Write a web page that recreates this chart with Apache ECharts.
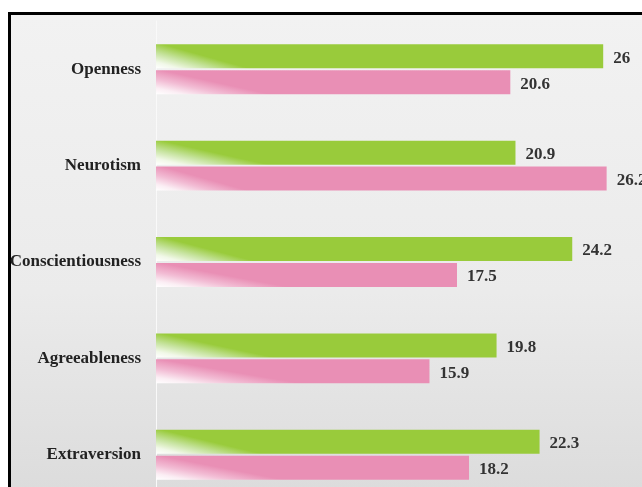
<!DOCTYPE html>
<html>
<head>
<meta charset="utf-8">
<title>Personality traits</title>
<script src="https://cdn.jsdelivr.net/npm/echarts@6/dist/echarts.min.js"></script>
<style>
  html, body { margin: 0; padding: 0; background: #ffffff; overflow: hidden; width: 642px; height: 487px; }
  #frame {
    position: absolute; left: 8px; top: 12px; width: 700px; height: 560px;
    border: 3px solid #000; box-sizing: border-box;
    background: linear-gradient(to bottom, #f2f2f2 0%, #ebebeb 50%, #dbdbdb 88%);
  }
  #chart { position: absolute; left: 0; top: 0; width: 720px; height: 530px; }
</style>
</head>
<body>
<div id="frame"></div>
<div id="chart"></div>
<script>
// Trait names, top to bottom
const categories = ['Openness', 'Neurotism', 'Conscientiousness', 'Agreeableness', 'Extraversion'];
// Mean scores for the two groups
const greenValues = [26, 20.9, 24.2, 19.8, 22.3];
const pinkValues = [20.6, 26.2, 17.5, 15.9, 18.2];

const serif = '"Liberation Serif", "Times New Roman", serif';

// Soft white wedge in the lower-left corner fading into the bar colour
function fade(color, light, mid) {
  return new echarts.graphic.LinearGradient(0, 1, 0.015, 0, [
    { offset: 0, color: '#ffffff' },
    { offset: 0.25, color: light },
    { offset: 0.6, color: mid },
    { offset: 1, color: color }
  ]);
}

const valueLabel = {
  show: true,
  position: 'right',
  distance: 10,
  fontFamily: serif,
  fontWeight: 'bold',
  fontSize: 17,
  color: '#333333',
  offset: [0, 2]
};

const chart = echarts.init(document.getElementById('chart'), null, { renderer: 'canvas' });
chart.setOption({
  backgroundColor: 'transparent',
  animation: false,
  grid: { left: 156, top: 21, width: 516, height: 482, containLabel: false },
  xAxis: {
    type: 'value', min: 0, max: 30,
    show: false
  },
  yAxis: {
    type: 'category',
    data: categories,
    inverse: true,
    axisLine: { show: true, lineStyle: { color: '#f9f9f9', width: 1 } },
    axisTick: { show: false },
    splitLine: { show: false },
    axisLabel: {
      margin: 15,
      fontFamily: serif,
      fontWeight: 'bold',
      fontSize: 17,
      color: '#222222'
    }
  },
  series: [
    {
      name: 'Group 1',
      type: 'bar',
      data: greenValues,
      barWidth: 24,
      barGap: '8%',
      itemStyle: { color: fade('#99cb3b', '#f1f8e8', '#c6e39e') },
      label: valueLabel
    },
    {
      name: 'Group 2',
      type: 'bar',
      data: pinkValues,
      barWidth: 24,
      itemStyle: { color: fade('#e98fb5', '#fbeef4', '#f2bcd4') },
      label: valueLabel
    }
  ]
});
</script>
</body>
</html>
